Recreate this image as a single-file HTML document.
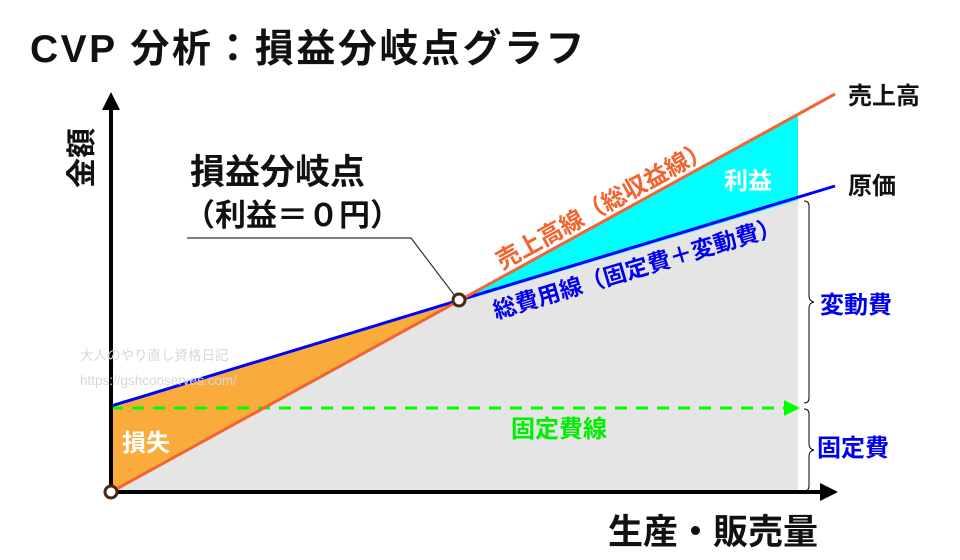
<!DOCTYPE html>
<html><head><meta charset="utf-8"><style>
html,body{margin:0;padding:0;background:#fff;}
svg{display:block;font-family:"Liberation Sans","Noto Sans CJK JP",sans-serif;}
</style></head><body>
<svg width="960" height="560" viewBox="0 0 960 560">
<polygon points="111,492 111,406 798,200 798,492" fill="#e5e5e5"/>
<polygon points="111,406 459,302 111,492" fill="#f9ab3c"/>
<polygon points="459,302 798,200 798,114" fill="#00ffff"/>
<line x1="111" y1="408" x2="788" y2="408" stroke="#00ff00" stroke-width="3" stroke-dasharray="12,9"/>
<polygon points="784,400 800,408 784,416" fill="#00ff00"/>
<line x1="111" y1="406" x2="835" y2="186" stroke="#0000ff" stroke-width="3"/>
<line x1="111" y1="492" x2="835" y2="94" stroke="#f26430" stroke-width="3"/>
<line x1="111" y1="494" x2="111" y2="108" stroke="#000" stroke-width="4"/>
<polygon points="102,110 111,92 120,110" fill="#000"/>
<line x1="109" y1="492" x2="822" y2="492" stroke="#000" stroke-width="4"/>
<polygon points="820,483 838,492 820,501" fill="#000"/>
<circle cx="111" cy="492" r="6" fill="#fff" stroke="#4a2a10" stroke-width="3"/>
<circle cx="459" cy="300" r="6" fill="#fff" stroke="#4a2a10" stroke-width="3"/>
<polyline points="187,238 411,238 455,296" fill="none" stroke="#333" stroke-width="1.2"/>
<path d="M804,201 q5,0 5,5 v90 q0,5 5,6 q-5,1 -5,6 v90 q0,5 -5,5" fill="none" stroke="#000" stroke-width="1"/>
<path d="M804,409 q5,0 5,5 v30 q0,5 5,6 q-5,1 -5,6 v30 q0,5 -5,5" fill="none" stroke="#000" stroke-width="1"/>
<text x="30" y="62" font-size="39" font-weight="bold" fill="#111" letter-spacing="2.5">CVP 分析：損益分岐点グラフ</text>
<text font-size="30" font-weight="bold" fill="#111" transform="translate(92,188) rotate(-90)">金額</text>
<text x="608" y="544" font-size="35" font-weight="bold" fill="#111">生産・販売量</text>
<text x="190" y="184" font-size="35" font-weight="bold" fill="#111">損益分岐点</text>
<text x="184" y="226" font-size="31" font-weight="bold" fill="#111">（利益＝０円）</text>
<text x="848" y="104" font-size="24" font-weight="bold" fill="#111">売上高</text>
<text x="848" y="194" font-size="24" font-weight="bold" fill="#111">原価</text>
<text x="820" y="313" font-size="24" font-weight="bold" fill="#0000ee">変動費</text>
<text x="817" y="456" font-size="24" font-weight="bold" fill="#0000ee">固定費</text>
<text x="724" y="189" font-size="24" font-weight="bold" fill="#fff">利益</text>
<text x="122" y="451" font-size="24" font-weight="bold" fill="#fff">損失</text>
<text x="511" y="437" font-size="24" font-weight="bold" fill="#00ee00">固定費線</text>
<text font-size="24" font-weight="bold" fill="#f26430" transform="translate(502,270) rotate(-28.8)">売上高線（総収益線）</text>
<text font-size="23" font-weight="bold" fill="#0000ee" transform="translate(496,319) rotate(-16.7)">総費用線（固定費＋変動費）</text>
<text x="80" y="360" font-size="13.5" fill="#d8d8d8">大人のやり直し資格日記</text>
<text x="80" y="385" font-size="13.5" fill="#d8d8d8">https://gshconserves.com/</text>
</svg>
</body></html>
